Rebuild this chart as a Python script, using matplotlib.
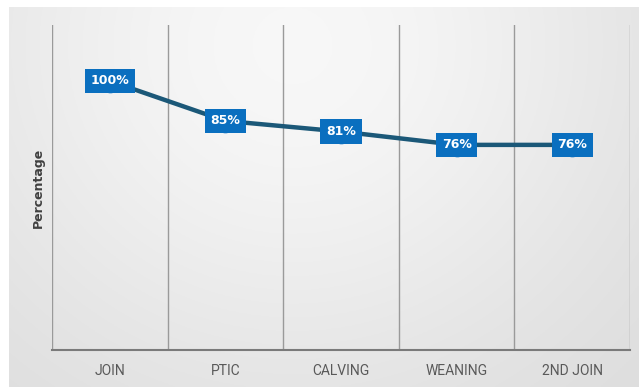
import numpy as np
import matplotlib.pyplot as plt

# data
stages = ["JOIN", "PTIC", "CALVING", "WEANING", "2ND JOIN"]
percent = [100, 85, 81, 76, 76]
labels = ["100%", "85%", "81%", "76%", "76%"]

fig = plt.figure(figsize=(6.39, 3.87), dpi=100)
fig.patch.set_facecolor("white")

# soft gray gradient background panel
bg = fig.add_axes([9 / 639, 0, 1 - 9 / 639, 1 - 7 / 387])
xx, yy = np.meshgrid(np.linspace(0, 1, 300), np.linspace(0, 1, 200))
shade = 0.85 + 0.12 * np.exp(-((xx - 0.45) ** 2 / 0.35 + (yy - 0.1) ** 2 / 0.9))
shade = np.clip(shade, 0, 0.975)
bg.imshow(np.dstack([shade] * 3), aspect="auto", extent=[0, 1, 0, 1], origin="upper")
bg.axis("off")

ax = fig.add_axes([52 / 639, 37 / 387, 578 / 639, 325 / 387])
ax.patch.set_alpha(0)
x = np.arange(len(stages))

# category separators
for b in np.arange(-0.5, len(stages), 1.0):
    ax.axvline(b, color="#9a9a9a", lw=1.0, zorder=1)

ax.plot(x, percent, color="#1b5878", lw=3.2, zorder=3, solid_capstyle="round")
ax.plot(x, percent, "o", ms=16, color="#0a6fbf", zorder=4)
for xi, yi, t in zip(x, percent, labels):
    ax.text(xi, yi, t, ha="center", va="center", color="white", fontsize=9,
            fontweight="bold", zorder=5,
            bbox=dict(boxstyle="square,pad=0.45", fc="#0a6fbf", ec="none"))

ax.set_xlim(-0.5, len(stages) - 0.5)
ax.set_ylim(-1, 121)
ax.set_xticks(x)
ax.set_xticklabels(stages, fontsize=10, color="#595959", family="Roboto")
ax.set_yticks([])
ax.tick_params(axis="x", length=0, pad=10)
for s in ["top", "left", "right"]:
    ax.spines[s].set_visible(False)
ax.spines["bottom"].set_color("#7a7a7a")
ax.spines["bottom"].set_linewidth(1.5)

ax.set_ylabel("Percentage", fontsize=9, fontweight="bold", color="#404040")
ax.yaxis.set_label_coords(-0.012, 0.5)

fig.savefig("out.png", dpi=100)
